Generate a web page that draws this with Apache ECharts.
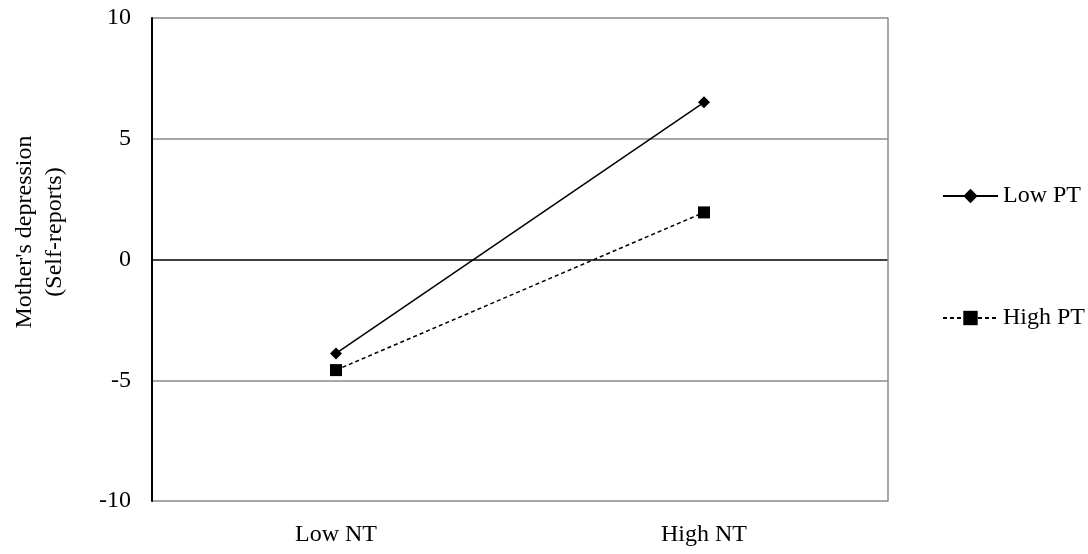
<!DOCTYPE html>
<html>
<head>
<meta charset="utf-8">
<script src="https://cdn.jsdelivr.net/npm/echarts@6/dist/echarts.min.js"></script>
<style>
html,body{margin:0;padding:0;background:#fff;}
#chart{width:1088px;height:554px;}
</style>
</head>
<body>
<div id="chart"></div>
<script>
const categories = ['Low NT', 'High NT'];
const lowPT = [-3.89, 6.51];
const highPT = [-4.58, 1.95];
const seriesNames = ['Low PT', 'High PT'];
const yTicks = [-10, -5, 0, 5, 10];
const yTitle = "Mother's depression\n(Self-reports)";

const font = '"Liberation Serif", "Times New Roman", serif';
const fs = 24;
const chart = echarts.init(document.getElementById('chart'));
chart.setOption({
  backgroundColor: '#fff',
  animation: false,
  grid: { left: 152, right: 200, top: 18, bottom: 53 },
  legend: {
    orient: 'vertical',
    left: 942,
    top: 184,
    padding: 0,
    itemGap: 98,
    itemWidth: 55,
    itemHeight: 18,
    textStyle: { fontFamily: font, fontSize: fs, color: '#000', padding: [0, 0, 0, 0] },
    data: seriesNames
  },
  graphic: [{
    type: 'text',
    x: 40,
    y: 232,
    rotation: Math.PI / 2,
    style: {
      text: yTitle,
      font: fs + 'px ' + font,
      fill: '#000',
      align: 'center',
      verticalAlign: 'middle',
      lineHeight: 30
    }
  }],
  xAxis: {
    type: 'category',
    data: categories,
    axisLine: { show: false },
    axisTick: { show: false },
    axisLabel: { fontFamily: font, fontSize: fs, color: '#000', margin: 22 }
  },
  yAxis: [{
    type: 'value',
    min: yTicks[0],
    max: yTicks[yTicks.length - 1],
    interval: 5,
    axisLine: { show: true, lineStyle: { color: '#000', width: 2 } },
    axisTick: { show: false },
    axisLabel: { fontFamily: font, fontSize: fs, color: '#000', margin: 21 },
    splitLine: { show: true, lineStyle: { color: ['#8a8a8a', '#8a8a8a', '#000', '#8a8a8a', '#8a8a8a'], width: 1.5 } }
  }, {
    type: 'value',
    position: 'right',
    min: yTicks[0],
    max: yTicks[yTicks.length - 1],
    interval: 5,
    axisLine: { show: true, lineStyle: { color: '#8a8a8a', width: 1.5 } },
    axisTick: { show: false },
    axisLabel: { show: false },
    splitLine: { show: false }
  }],
  series: [{
    name: seriesNames[0],
    type: 'line',
    data: lowPT,
    symbol: 'diamond',
    symbolSize: 12,
    itemStyle: { color: '#000' },
    lineStyle: { color: '#000', width: 1.5, type: 'solid' }
  }, {
    name: seriesNames[1],
    type: 'line',
    data: highPT,
    symbol: 'rect',
    symbolSize: 12,
    itemStyle: { color: '#000' },
    lineStyle: { color: '#000', width: 1.5, type: [4, 3] }
  }]
});
</script>
</body>
</html>
